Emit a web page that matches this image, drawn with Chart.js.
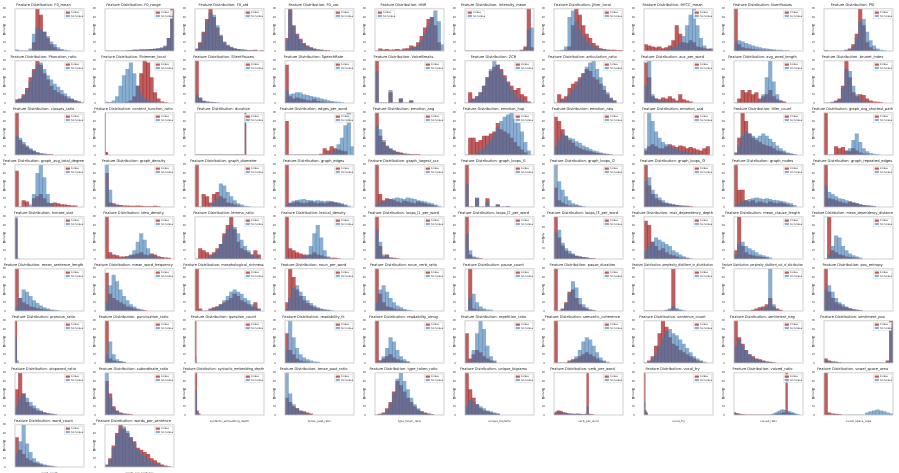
<!DOCTYPE html>
<html>
<head>
<meta charset="utf-8">
<script src="https://cdn.jsdelivr.net/npm/chart.js@4.4.1/dist/chart.umd.min.js"></script>
<style>
  html, body { margin: 0; padding: 0; background: #fff; }
  #grid { position: relative; width: 899px; height: 473px; overflow: hidden; }
  #grid canvas { position: absolute; }
</style>
</head>
<body>
<div id="grid"></div>
<script>
// feature names, one subplot each (10 per row)
const features = [
  'F0_mean','F0_range','F0_std','F0_var','HNR','Intensity_mean','Jitter_local','MFCC_mean','NumPauses','PSI',
  'Phonation_ratio','Shimmer_local','SilentPauses','SpeechRate','VoiceBreaks','ZCR','articulation_ratio','aux_per_word','avg_word_length','brunet_index',
  'clauses_ratio','content_function_ratio','duration','edges_per_word','emotion_ang','emotion_hap','emotion_neu','emotion_sad','filler_count','graph_avg_shortest_path',
  'graph_avg_total_degree','graph_density','graph_diameter','graph_edges','graph_largest_scc','graph_loops_l1','graph_loops_l2','graph_loops_l3','graph_nodes','graph_repeated_edges',
  'honore_stat','idea_density','lemma_ratio','lexical_density','loops_l1_per_word','loops_l2_per_word','loops_l3_per_word','max_dependency_depth','mean_clause_length','mean_dependency_distance',
  'mean_sentence_length','mean_word_frequency','morphological_richness','noun_per_word','noun_verb_ratio','pause_count','pause_duration','perplexity_distilbert_in_distribution','perplexity_distilbert_out_of_distribution','pos_entropy',
  'pronoun_ratio','punctuation_ratio','question_count','readability_fk','readability_smog','repetition_ratio','semantic_coherence','sentence_count','sentiment_neg','sentiment_pos',
  'stopword_ratio','subordinate_ratio','syntactic_embedding_depth','tense_past_ratio','type_token_ratio','unique_bigrams','verb_per_word','vocal_fry','voiced_ratio','vowel_space_area',
  'word_count','words_per_sentence'
];

// x range of each histogram: [min, max, bins] (bins defaults to 20)
const ranges = [
  [0,400],[0,900],[0,200],[0,3000],[-160,20],[-1000,100],[0,0.5],[-600,-100],[0,60],[-0.3,0.3],
  [0,1],[0.05,0.35],[0,40],[0,30],[0,10],[0,0.5],[0,1],[0,0.3],[2,8],[5,25],
  [0,10],[0,1.5,100],[0,80,80],[0,1],[0,0.8],[0,0.7],[0,0.8],[0,0.5],[0,400],[0,10],
  [0,6],[0,1.4],[0,25],[0,200],[0,120],[0,7],[0,40],[0,30],[0,120],[0,30],
  [0,3000,30],[0,1],[0.2,1],[0,1],[0,1],[0,1],[0,1],[0,20],[0,40],[0,6],
  [0,80],[0,8],[0,1],[0,0.5],[0,10],[0,80],[0,30],[0,200],[0,200],[0,4],
  [0,0.5,40],[0,0.4],[0,20,60],[-20,40],[0,20],[0,0.5],[0,1],[0,40],[0,1],[0,1],
  [0,0.8],[0,0.5],[0,10,40],[0,1],[0.2,1],[0,300],[0,0.4,40],[0,1,60],[0,1,40],[0,2000],
  [0,600],[0,40]
];

// subplots whose legend sits top-left
const legendLeft = [4, 5];

// "Stress" group densities per bin (relative)
const stress = [
  [0,0,0,0,0,20,100,85,45,30,15,8,3,1],
  [0,0,0,0,0,0,0,1,2,2,3,3,3,4,4,5,6,10,30,100],
  [5,20,45,75,100,80,55,35,20,12,8,5,4,3,2,1,1,2,0,1],
  [30,100,60,40,28,18,12,8,5,3,2,1,1],
  [0,5,3,4,2,3,4,2,5,6,12,10,20,35,55,75,80,60,20],
  [0,0,0,0,0,0,0,0,0,0,0,0,0,0,0,0,2,10,100,8],
  [0,0,0,2,10,60,100,85,60,40,30,18,12,6,4,3,2,2,1,1],
  [15,12,10,8,10,6,8,12,25,60,40,20,18,25,20,10,8,6,4,5],
  [100,15,8,6,5,4,3,2,2,1,1,1],
  [1,0,0,0,0,0,2,5,15,40,100,60,20,8,3,1],
  [8,10,20,35,60,80,100,90,70,55,40,30,25,20,15,10,8,5,3],
  [0,0,0,0,0,0,2,5,15,40,70,100,95,60,25,10,3,1],
  [100,12,4,2,1,1],
  [90,15,10,12,10,8,6,5,8,4,3,2,1,1],
  [100,0,0,0,25,0,0,10,0,0,5],
  [0,25,10,15,25,40,60,75,85,90,80,65,50,40,30,35,20,15,3],
  [0,20,10,15,35,45,50,60,70,80,75,60,55,45,30,20,10,5],
  [95,60,15,10,8,12,10,15,10,5,20,8,5,3],
  [0,10,30,25,30,20,25,10,15,20,30,15,8,5,3],
  [0,0,2,5,10,40,100,60,25,15,20,18,10,5,3,2,1],
  [100,35,25,18,12,8,5,3,2,1,1],
  [0,6,6,6],
  [0,0,0,0,0,0,0,0,0,0,0,0,0,0,0,0,0,0,0,0,0,0,0,0,0,0,0,0,0,0,0,0,0,0,0,0,0,0,0,0,0,0,0,0,0,0,0,0,0,0,0,0,0,0,0,0,0,0,100],
  [80,0,0,0,0,0,0,0,0,0,2,15,10,20,15,12,10,8],
  [100,45,30,20,14,10,7,5,3,2,1,1,1],
  [0,40,40,30,35,45,45,50,55,75,60,55,50,40,30,20,12,5],
  [90,80,60,45,35,28,20,15,12,10,8,6,4,3,2,1],
  [10,20,25,20,15,15,20,25,22,18,22,20,15,18,15,12,10,15,20],
  [5,40,100,80,50,40,35,30,25,22,20,15,10,8,5,3,2,1],
  [100,0,0,20,15,18,10,8,15,10,5,3,2],
  [85,0,15,12,0,20,25,30,20,10,8,10,8,6,5,4,3,3],
  [80,10,8,5,4,3,3,2,2,3,2,1,1,1,2,1],
  [100,0,30,25,10,30,35,25,20,10,8,5,3,1],
  [100,8,10,12,10,8,10,12,10,8,10,8,10,12,10,8,5,3],
  [100,30,15,20,18,15,12,10,14,12,10,8,12,10,8,6,4,2],
  [100,0,0,20,0,0,20,0,0,5,0,0,1],
  [45,15,10,5,3,2,3,1],
  [100,50,30,20,15,10,8,6,5,4,3,2,2,1],
  [100,40,40,15,12,15,10,12,10,8,12,10,8,10,8,5,3],
  [100,20,18,15,12,10,8,12,10,8,5,4,3,2,1],
  [95,0],
  [100,15,10,8,5,5,6,8,10,12,15,10,8,12,10,6,4,3,2],
  [0,25,20,15,10,15,25,35,60,80,100,70,40,25,20,15,10,20,10],
  [100,25,20,15,12,10,8,10,15,10,8,5,3,2,2,1],
  [100,30,5,10,3,2,1],
  [100,10,3,2,1],
  [80,40,25,15,10,8,5,4,3,2,1,1],
  [90,80,40,30,20,25,15,10,8,5,3,2,1],
  [20,100,30,15,10,8,6,5,4,3],
  [0,100,20,15,10,8,5,4,3,2],
  [100,30,20,15,10,8,6,4,3,2,1],
  [90,40,30,25,20,15,10,8,5,3,2,1],
  [100,5,0,0,5,8,10,15,20,25,30,40,35,25,20,15,10,20,5],
  [20,100,80,50,35,25,18,12,8,5,3,2,1],
  [100,40,20,10,8,5,3,2,1],
  [0,100,5,3,2,1],
  [100,0,5,20,45,50,30,15,8,4,2,1],
  [0,0,0,0,0,0,0,2,100,3,1],
  [0,0,0,0,0,2,5,8,10,15,30,10,5,2],
  [100,45,30,20,15,10,8,5,3,2,1],
  [100,0],
  [100,10,5,3,2,1],
  [100,0],
  [70,30,20,10,5,3,2],
  [100,5,10,15,20,12,8,5,3,2],
  [70,10,20,30,25,15,10,5,3],
  [100,0,0,0,5,8,10,15,20,25,20,15,10,5,3],
  [0,5,15,40,70,100,85,60,45,40,30,25,20,15,10,5,3],
  [100,60,45,30,20,15,10,8,5,3,2,1],
  [10,5,3,2,1,0,0,0,0,0,0,0,0,0,0,0,0,0,5,100],
  [60,100,50,30,20,15,10,8,5,3,2,1],
  [80,50,20,10,5,3,2,1],
  [100,10,3],
  [40,30,20,15,10,8,5,3],
  [0,2,5,15,30,55,80,70,55,40,30,20,12,8,5,3,1],
  [100,60,40,25,15,10,8,5,3,2],
  [5,8,10,9,8,6,5,4,3,3,2,2,2,3,2,2,1,1,2,100,2,1,1],
  [100,10,5],
  [6,4,3,2,1,1,0,0,0,0,0,0,0,0,0,0,0,0,0,0,0,0,0,0,2,3,3,4,5,6,100,5,4,3,2,1],
  [100,5,3,2,1],
  [70,40,30,20,15,10,8,5,3,2,1],
  [5,20,50,80,100,90,80,70,60,45,40,35,30,20,15,10,5,3,1]
];

// "No Stress" group densities per bin (relative)
const noStress = [
  [3,0,0,0,5,40,55,50,45,35,22,15,8,4,2,1],
  [0,0,0,0,0,0,1,1,2,2,3,3,4,4,5,6,8,12,30,90],
  [4,18,42,70,90,85,60,38,22,14,9,6,4,3,2,1,1],
  [25,95,58,38,25,16,10,7,4,3,2,1],
  [0,0,0,0,0,0,0,1,2,3,6,8,12,25,40,60,80,95,70,15],
  [0,0,0,0,0,0,0,0,0,0,0,0,0,0,0,0,1,5,50,55],
  [0,0,2,10,80,95,70,50,35,22,15,10,6,4,2,1],
  [0,0,0,0,0,0,2,5,8,12,20,35,60,85,100,60,30,12,5,2],
  [20,25,22,18,15,12,10,8,6,5,4,3,2,2,1,1],
  [1,0,0,0,0,0,1,3,10,30,70,75,45,25,12,5,2,1],
  [5,8,15,30,50,75,90,95,80,65,55,45,38,30,22,15,10,6,3,1],
  [2,1,5,15,40,65,80,95,70,40,20,10,5,3,2,1],
  [20,10,5,3,2,1,1],
  [30,20,22,25,24,20,18,16,14,12,10,8,6,4,3,2,1],
  [75,0,0,0,30,0,0,10,0,0,5],
  [0,5,8,15,25,40,60,80,100,90,75,60,45,30,20,10,5,3,1],
  [0,0,5,8,20,30,40,55,70,85,95,100,80,60,40,25,12,5],
  [40,100,20,10,5,5,3,2,1,1],
  [0,0,0,0,0,0,0,5,20,60,100,50,20,5],
  [0,0,1,3,8,35,80,75,40,20,8,3,1],
  [45,40,30,22,15,10,6,3,2,1],
  [100],
  [0,0,0,0,0,0,0,0,0,0,0,0,0,0,0,0,0,0,0,0,0,0,0,0,0,0,0,0,0,0,0,0,0,0,0,0,0,0,0,0,0,0,0,0,0,0,0,0,0,0,0,0,0,0,0,0,0,0,100],
  [0,0,0,0,0,0,0,0,0,0,0,0,3,5,10,25,40,70,100,20],
  [70,60,35,22,15,10,6,4,2,1,1],
  [0,0,0,5,10,15,25,35,50,65,80,90,95,100,85,75,55,30,10],
  [20,35,50,45,40,38,32,28,22,18,14,10,8,5,3,2,1],
  [15,100,80,55,40,30,25,20,15,12,10,8,6,5,3,2,1],
  [3,20,45,55,50,45,40,45,50,45,38,30,22,15,10,5,3,1],
  [0,0,0,0,0,0,5,15,35,50,30,15,8,4,2,1],
  [0,0,0,0,5,30,80,100,70,30,8,2],
  [100,40,5,2,1],
  [0,0,0,0,0,10,20,55,50,35,25,15,8,5,2,1],
  [5,10,14,16,17,18,16,15,14,15,14,13,14,12,11,10,8,5,2],
  [5,10,12,15,18,20,22,20,18,22,20,18,15,14,12,10,8,5,2],
  [55,0,0,22,0,0,12,0,0,5,0,0,1],
  [100,60,40,25,15,8,5,3,1],
  [60,70,40,30,22,15,10,8,6,4,3,2,1],
  [5,8,12,15,18,20,22,20,18,20,18,16,15,14,12,10,8,4],
  [50,35,30,25,20,18,15,12,10,8,6,4,3,2,1],
  [100,0],
  [0,0,0,0,0,2,5,10,20,40,60,45,25,10,5,2],
  [0,0,0,2,5,10,20,35,55,70,80,75,60,45,30,20,10,5,2],
  [0,0,0,0,0,5,10,30,60,80,50,20,5],
  [70,40,10,5,2,1],
  [60,20,5,2],
  [50,55,30,20,15,10,6,4,3,2,1],
  [20,30,40,50,45,40,35,30,20,15,10,6,3,1],
  [10,35,40,30,25,20,15,10,8,5,3],
  [0,10,30,55,50,30,20,12,8,5,3],
  [10,30,50,45,35,25,18,12,8,5,3,2,1],
  [20,60,85,70,50,35,25,15,10,5,3],
  [0,0,0,0,2,5,10,15,25,35,45,50,45,40,30,25,15,10,3],
  [5,30,55,60,45,35,25,18,12,8,5,3,2,1],
  [20,50,60,45,30,20,12,8,4,2,1],
  [0,30,40,20,10,5,3,2],
  [0,0,2,15,40,70,55,30,15,8,3,1],
  [0,0,0,0,0,0,2,5,10,6,3,1],
  [0,0,0,0,0,0,0,2,5,10,100,15,3],
  [50,60,45,30,20,15,10,6,4,2,1],
  [60,5],
  [20,50,20,8,4,2],
  [15,0],
  [30,100,60,35,20,12,8,5,3,2],
  [0,5,15,35,60,50,30,15,8,3],
  [0,5,30,70,100,80,40,15,5],
  [0,0,0,0,2,5,15,30,50,60,55,40,25,12,5,2],
  [0,2,8,20,40,60,75,80,70,65,55,45,35,25,15,10,5,2],
  [40,55,40,30,20,12,8,5,3,2,1],
  [5,3,2,1,0,0,0,0,0,0,0,0,0,0,0,0,0,0,3,90],
  [20,40,50,40,30,22,15,10,6,4,2,1],
  [100,40,15,8,4,2,1],
  [60,5],
  [100,50,25,15,8,5,3],
  [0,1,3,10,25,50,85,100,80,60,40,25,15,8,4,2,1],
  [20,35,30,25,20,15,10,8,5,3],
  [3,4,5,5,4,3,3,2,2,2,1,1,1,1,1,1,1,1,1,20,1],
  [30,8,3],
  [3,2,1,1,0,0,0,0,0,0,0,0,0,0,0,0,0,0,0,0,0,0,2,4,6,8,10,12,12,11,10,9,8,6,5,3,2,1],
  [0,0,0,0,0,0,0,0,0,0,0,0,5,8,10,12,10,8,5,3],
  [30,60,100,55,35,20,12,8,5,3,2,1],
  [3,15,45,75,90,95,85,70,55,40,30,25,18,12,8,5,3,1]
];

const RED = 'rgba(165,30,30,0.72)';
const BLUE = 'rgba(60,120,175,0.6)';
const FONT = 'DejaVu Sans';
Chart.defaults.font.family = FONT;
Chart.defaults.color = '#333';

const frame = {
  id: 'frame',
  afterDraw(chart) {
    const a = chart.chartArea, ctx = chart.ctx;
    ctx.save();
    ctx.strokeStyle = '#c4c4c4';
    ctx.lineWidth = 0.8;
    ctx.strokeRect(a.left, a.top, a.right - a.left, a.bottom - a.top);
    ctx.restore();
  }
};

const boxLegend = {
  id: 'boxLegend',
  afterDraw(chart, args, opts) {
    const a = chart.chartArea, ctx = chart.ctx;
    const w = 18, h = 8;
    const x = opts.left ? a.left + 1.5 : a.right - w - 1.5;
    const y = a.top + 1.5;
    ctx.save();
    ctx.fillStyle = 'rgba(255,255,255,0.85)';
    ctx.strokeStyle = '#d6d6d6';
    ctx.lineWidth = 0.5;
    ctx.fillRect(x, y, w, h);
    ctx.strokeRect(x, y, w, h);
    ctx.font = '2.5px "' + FONT + '"';
    ctx.textBaseline = 'middle';
    chart.data.datasets.forEach((ds, i) => {
      const yy = y + 2.3 + i * 3.4;
      ctx.fillStyle = ds.backgroundColor;
      ctx.fillRect(x + 1.2, yy - 1.1, 4.2, 2.2);
      ctx.fillStyle = '#333';
      ctx.fillText(ds.label, x + 6.6, yy);
    });
    ctx.restore();
  }
};

const grid = document.getElementById('grid');
const COLS = 10, CELL_W = 89.9, CELL_H = 52;

features.forEach((name, i) => {
  const [lo, hi, bins = 20] = ranges[i];
  const w = (hi - lo) / bins;
  const pts = vals => vals.map((v, k) => ({ x: lo + (k + 0.5) * w, y: v }));
  // x label only shows where no subplot sits underneath
  const showXLabel = i + COLS >= features.length;

  const cv = document.createElement('canvas');
  cv.width = 90; cv.height = 59;
  cv.style.left = Math.round((i % COLS) * CELL_W) + 'px';
  cv.style.top = Math.floor(i / COLS) * CELL_H + 'px';
  grid.appendChild(cv);

  new Chart(cv, {
    type: 'bar',
    data: {
      datasets: [
        { label: 'Stress', data: pts(stress[i]), backgroundColor: RED, order: 1 },
        { label: 'No Stress', data: pts(noStress[i]), backgroundColor: BLUE, order: 0 }
      ]
    },
    options: {
      responsive: false, animation: false, devicePixelRatio: 1,
      layout: { padding: { left: 3, right: 6, top: 0, bottom: 0 } },
      datasets: { bar: { grouped: false, barPercentage: 1, categoryPercentage: 1, borderWidth: 0 } },
      plugins: {
        legend: { display: false },
        tooltip: { enabled: false },
        title: {
          display: true, text: 'Feature Distribution: ' + name, color: '#222',
          font: { size: 3.6, weight: 'normal' }, padding: { top: 3, bottom: 1.5 }
        },
        boxLegend: { left: legendLeft.includes(i) }
      },
      scales: {
        x: {
          type: 'linear', min: lo, max: hi, offset: false,
          grid: { display: false }, border: { display: false },
          ticks: { font: { size: 2.6 }, color: '#444', maxTicksLimit: 6, maxRotation: 0, padding: 1 },
          title: { display: showXLabel, text: name, font: { size: 2.8 }, padding: 0 },
          afterFit: s => { s.height = 8; }
        },
        y: {
          beginAtZero: true,
          grid: { display: false }, border: { display: false },
          ticks: { font: { size: 2.6 }, color: '#444', maxTicksLimit: 7, padding: 1 },
          title: { display: true, text: 'Density', font: { size: 2.8 }, padding: 0 },
          afterFit: s => { s.width = 12; }
        }
      }
    },
    plugins: [frame, boxLegend]
  });
});
</script>
</body>
</html>
